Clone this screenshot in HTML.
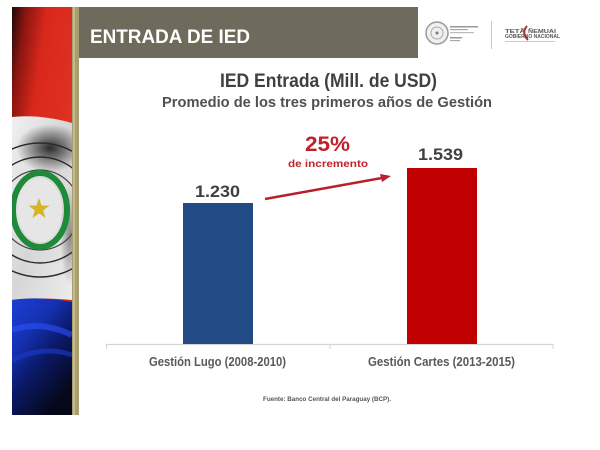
<!DOCTYPE html>
<html>
<head>
<meta charset="utf-8">
<style>
html,body{margin:0;padding:0;background:#fff;}
svg{display:block;}
text{font-family:"Liberation Sans",sans-serif;font-weight:bold;}
</style>
</head>
<body>
<svg width="600" height="450" viewBox="0 0 600 450" xmlns="http://www.w3.org/2000/svg">
<defs>
  <clipPath id="fc"><rect x="12" y="7" width="60" height="408"/></clipPath>
  <linearGradient id="redg" x1="0" y1="0" x2="1" y2="1">
    <stop offset="0" stop-color="#1a0a08"/>
    <stop offset="0.12" stop-color="#8a1510"/>
    <stop offset="0.3" stop-color="#d8281c"/>
    <stop offset="0.7" stop-color="#e03424"/>
    <stop offset="1" stop-color="#9a1a12"/>
  </linearGradient>
  <linearGradient id="whg" x1="0" y1="0" x2="1" y2="1">
    <stop offset="0" stop-color="#f0f0f0"/>
    <stop offset="0.5" stop-color="#d6d6d6"/>
    <stop offset="1" stop-color="#ececec"/>
  </linearGradient>
  <linearGradient id="blg" x1="0" y1="0" x2="0.6" y2="1">
    <stop offset="0" stop-color="#1d3fd6"/>
    <stop offset="0.35" stop-color="#1530b0"/>
    <stop offset="0.6" stop-color="#0b1a6a"/>
    <stop offset="1" stop-color="#050818"/>
  </linearGradient>
  <radialGradient id="shade" cx="0.5" cy="0.5" r="0.5">
    <stop offset="0" stop-color="#000" stop-opacity="0.8"/>
    <stop offset="1" stop-color="#000" stop-opacity="0"/>
  </radialGradient>
</defs>
<rect width="600" height="450" fill="#fff"/>

<!-- Flag strip -->
<g clip-path="url(#fc)">
  <rect x="12" y="7" width="60" height="408" fill="url(#redg)"/>
  <path d="M12 117 Q40 114 72 123 L72 300 Q40 297 12 300 Z" fill="url(#whg)"/>
  <ellipse cx="50" cy="148" rx="34" ry="24" fill="url(#shade)"/>
  <ellipse cx="70" cy="235" rx="10" ry="50" fill="url(#shade)" opacity="0.5"/>
  <circle cx="40" cy="210" r="67" fill="none" stroke="#2a2a2a" stroke-width="1.4"/>
  <circle cx="40" cy="210" r="53" fill="none" stroke="#2a2a2a" stroke-width="1.4"/>
  <circle cx="40" cy="210" r="40" fill="none" stroke="#444" stroke-width="1.2"/>
  <ellipse cx="40" cy="210" rx="27" ry="37" fill="none" stroke="#1e8a3a" stroke-width="6"/>
  <ellipse cx="40" cy="210" rx="22" ry="32" fill="#e6e6e6"/>
  <polygon points="39,198 41.6,205.5 49.5,205.6 43.2,210.4 45.5,218 39,213.4 32.5,218 34.8,210.4 28.5,205.6 36.4,205.5" fill="#d4b52a"/>
  <path d="M12 300 Q40 296 72 302 L72 415 L12 415 Z" fill="url(#blg)"/>
  <path d="M12 330 Q40 320 72 335" stroke="#2a52ff" stroke-width="6" fill="none" opacity="0.6"/>
  <path d="M12 360 Q45 345 72 355" stroke="#1c3ad0" stroke-width="5" fill="none" opacity="0.6"/>
</g>

<!-- Gold stripe -->
<rect x="72" y="7" width="7" height="408" fill="#a89e70"/>
<rect x="73" y="7" width="2" height="408" fill="#c4bb8c"/>

<!-- Header -->
<rect x="79" y="7" width="339" height="51" fill="#6f6b5c"/>
<text x="90" y="43" font-size="19" fill="#ffffff" textLength="160" lengthAdjust="spacingAndGlyphs">ENTRADA DE IED</text>

<!-- Logos -->
<circle cx="437" cy="33" r="11" fill="#f0f0f0" stroke="#9a9a9a" stroke-width="1.5"/>
<circle cx="437" cy="33" r="6" fill="none" stroke="#aaa" stroke-width="1"/>
<circle cx="437" cy="33" r="1.5" fill="#777"/>
<rect x="450" y="26" width="28" height="1.5" fill="#9a9a9a"/>
<rect x="450" y="29" width="18" height="1.2" fill="#aaa"/>
<rect x="450" y="32" width="24" height="1.2" fill="#bbb"/>
<rect x="450" y="37" width="12" height="1.5" fill="#999"/>
<rect x="450" y="40" width="10" height="1.2" fill="#aaa"/>
<rect x="491" y="21" width="1" height="28" fill="#c8c8c8"/>
<text x="505" y="33" font-size="5" fill="#555" textLength="20" lengthAdjust="spacingAndGlyphs">TETÃ</text>
<text x="528" y="33" font-size="5" fill="#555" textLength="28" lengthAdjust="spacingAndGlyphs">ÑEMUAI</text>
<text x="505" y="38" font-size="5" fill="#555" textLength="55" lengthAdjust="spacingAndGlyphs">GOBIERNO NACIONAL</text>
<path d="M527 26 Q521 33 528 40" stroke="#b0303a" stroke-width="2" fill="none"/>
<rect x="505" y="41" width="50" height="1" fill="#ccc"/>

<!-- Titles -->
<text x="220" y="87" font-size="19" fill="#404040" textLength="217" lengthAdjust="spacingAndGlyphs">IED Entrada (Mill. de USD)</text>
<text x="162" y="107" font-size="15" fill="#505050" textLength="330" lengthAdjust="spacingAndGlyphs">Promedio de los tres primeros años de Gestión</text>

<!-- Annotation -->
<text x="305" y="151" font-size="21" fill="#c2202a" textLength="45" lengthAdjust="spacingAndGlyphs">25%</text>
<text x="288" y="167" font-size="10.5" fill="#c2202a" textLength="80" lengthAdjust="spacingAndGlyphs">de incremento</text>
<line x1="265" y1="199" x2="382" y2="178" stroke="#b8202c" stroke-width="2.5"/>
<polygon points="391,176 380,174 382,182" fill="#b8202c"/>

<!-- Axis -->
<line x1="106" y1="344.5" x2="553" y2="344.5" stroke="#d4d4d4" stroke-width="1.2"/>
<line x1="106.5" y1="344" x2="106.5" y2="349" stroke="#d4d4d4" stroke-width="1"/>
<line x1="330" y1="344" x2="330" y2="349" stroke="#d4d4d4" stroke-width="1"/>
<line x1="553" y1="344" x2="553" y2="349" stroke="#d4d4d4" stroke-width="1"/>

<!-- Bars -->
<rect x="183" y="203" width="70" height="141" fill="#224b85"/>
<rect x="407" y="168" width="70" height="176" fill="#c00000"/>

<!-- Values -->
<text x="195" y="197" font-size="17" fill="#404040" textLength="45" lengthAdjust="spacingAndGlyphs">1.230</text>
<text x="418" y="160" font-size="17" fill="#404040" textLength="45" lengthAdjust="spacingAndGlyphs">1.539</text>

<!-- Category labels -->
<text x="149" y="366" font-size="13" fill="#595959" textLength="137" lengthAdjust="spacingAndGlyphs">Gestión Lugo (2008-2010)</text>
<text x="368" y="366" font-size="13" fill="#595959" textLength="147" lengthAdjust="spacingAndGlyphs">Gestión Cartes (2013-2015)</text>

<!-- Source -->
<text x="263" y="401" font-size="6" fill="#555" textLength="128" lengthAdjust="spacingAndGlyphs">Fuente: Banco Central del Paraguay (BCP).</text>
</svg>
</body>
</html>
